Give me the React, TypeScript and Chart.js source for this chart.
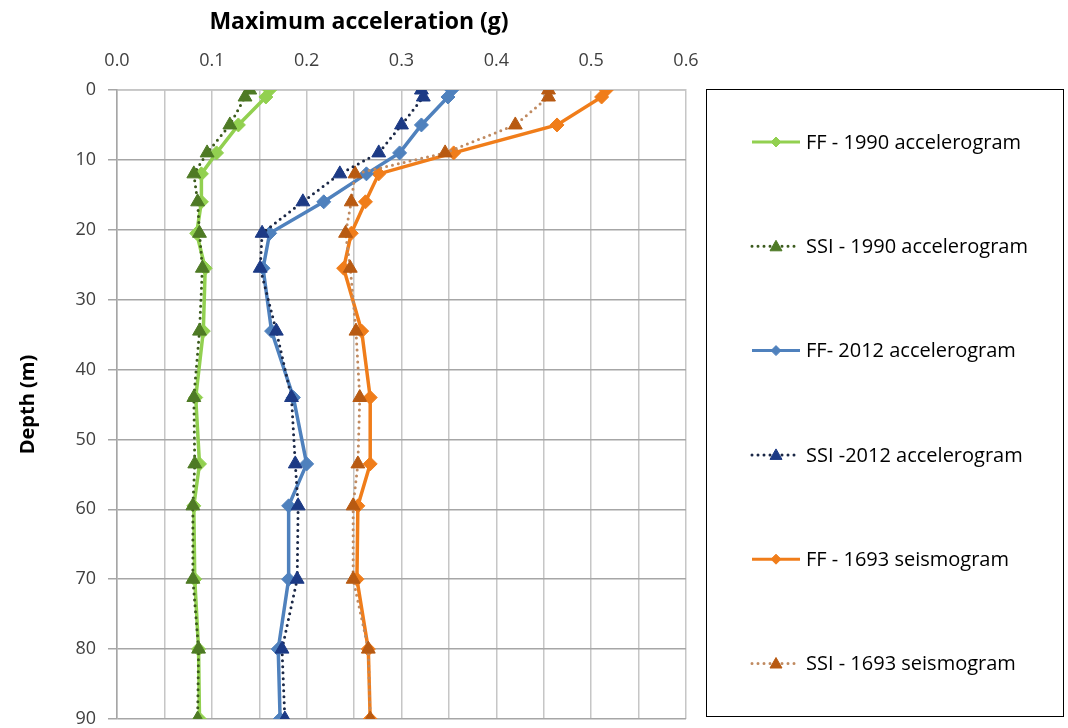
import React, { useEffect, useRef } from "react";
import { Chart, registerables } from "chart.js";

Chart.register(...registerables);

const depths = [0, 1, 5, 9, 12, 16, 20.5, 25.5, 34.5, 44, 53.5, 59.5, 70, 80, 90];

const ff1990 = [0.161, 0.157, 0.128, 0.105, 0.089, 0.089, 0.084, 0.093, 0.091, 0.083, 0.087, 0.081, 0.082, 0.086, 0.087];
const ssi1990 = [0.14, 0.135, 0.119, 0.095, 0.081, 0.085, 0.087, 0.09, 0.087, 0.081, 0.082, 0.08, 0.08, 0.086, 0.085];
const ff2012 = [0.353, 0.349, 0.321, 0.298, 0.263, 0.218, 0.161, 0.154, 0.163, 0.186, 0.2, 0.181, 0.181, 0.17, 0.172];
const ssi2012 = [0.321, 0.323, 0.3, 0.276, 0.235, 0.196, 0.153, 0.151, 0.168, 0.184, 0.188, 0.191, 0.19, 0.174, 0.177];
const ff1693 = [0.516, 0.511, 0.464, 0.355, 0.276, 0.262, 0.247, 0.239, 0.258, 0.267, 0.267, 0.254, 0.253, 0.265, 0.267];
const ssi1693 = [0.455, 0.455, 0.42, 0.346, 0.251, 0.247, 0.241, 0.246, 0.252, 0.256, 0.254, 0.249, 0.249, 0.265, 0.267];

const seriesLabels = [
  "FF - 1990 accelerogram",
  "SSI - 1990 accelerogram",
  "FF- 2012 accelerogram",
  "SSI -2012 accelerogram",
  "FF - 1693 seismogram",
  "SSI - 1693 seismogram",
];

const xTitle = "Maximum acceleration (g)";
const yTitle = "Depth (m)";

const FONT = '"Open Sans", "DejaVu Sans", sans-serif';

const toPoints = (vals: number[]) => vals.map((v, i) => ({ x: v, y: depths[i] }));

type Style = {
  line: string;
  marker: string;
  dotted: boolean;
  shape: "rectRot" | "triangle";
};

const styles: Style[] = [
  { line: "#92d050", marker: "#92d050", dotted: false, shape: "rectRot" },
  { line: "#3b5a1c", marker: "#4e7a25", dotted: true, shape: "triangle" },
  { line: "#4f81bd", marker: "#4f81bd", dotted: false, shape: "rectRot" },
  { line: "#1a2746", marker: "#1c3a85", dotted: true, shape: "triangle" },
  { line: "#f07d1a", marker: "#f07d1a", dotted: false, shape: "rectRot" },
  { line: "#c08a60", marker: "#b85a12", dotted: true, shape: "triangle" },
];

const seriesValues = [ff1990, ssi1990, ff2012, ssi2012, ff1693, ssi1693];

function drawMarker(ctx: CanvasRenderingContext2D, shape: string, x: number, y: number, color: string) {
  ctx.save();
  ctx.setLineDash([]);
  ctx.fillStyle = color;
  ctx.strokeStyle = color;
  ctx.lineWidth = 1;
  ctx.beginPath();
  if (shape === "rectRot") {
    const r = 5;
    ctx.moveTo(x, y - r);
    ctx.lineTo(x + r, y);
    ctx.lineTo(x, y + r);
    ctx.lineTo(x - r, y);
  } else {
    const r = 6;
    ctx.moveTo(x, y - r);
    ctx.lineTo(x + r, y + r * 0.75);
    ctx.lineTo(x - r, y + r * 0.75);
  }
  ctx.closePath();
  ctx.fill();
  ctx.stroke();
  ctx.restore();
}

const overlayPlugin = {
  id: "overlay",
  afterDraw(chart: any) {
    const ctx: CanvasRenderingContext2D = chart.ctx;
    ctx.save();
    ctx.font = `bold 23px ${FONT}`;
    ctx.fillStyle = "#000";
    ctx.textAlign = "center";
    ctx.textBaseline = "middle";
    ctx.fillText(xTitle, 359, 22);

    ctx.strokeStyle = "#000";
    ctx.lineWidth = 1;
    ctx.strokeRect(706.5, 89.5, 357, 627);

    ctx.font = `20px ${FONT}`;
    ctx.textAlign = "left";
    styles.forEach((s, i) => {
      const y = 142 + i * 104.3;
      ctx.save();
      ctx.strokeStyle = s.line;
      ctx.lineWidth = 3;
      if (s.dotted) {
        ctx.setLineDash([0, 6]);
        ctx.lineCap = "round";
      } else {
        ctx.setLineDash([]);
        ctx.lineCap = "butt";
      }
      ctx.beginPath();
      ctx.moveTo(752, y);
      ctx.lineTo(800, y);
      ctx.stroke();
      ctx.restore();
      drawMarker(ctx, s.shape, 776, y, s.marker);
      ctx.fillStyle = "#000";
      ctx.fillText(seriesLabels[i], 806, y + 1);
    });
    ctx.restore();
  },
};

export default function App() {
  const canvasRef = useRef<HTMLCanvasElement | null>(null);

  useEffect(() => {
    if (!canvasRef.current) return;
    const datasets = styles.map((s, i) => ({
      label: seriesLabels[i],
      data: toPoints(seriesValues[i]),
      showLine: true,
      borderColor: s.line,
      backgroundColor: s.marker,
      pointBackgroundColor: s.marker,
      pointBorderColor: s.marker,
      pointStyle: s.shape,
      pointRadius: s.shape === "rectRot" ? 7 : 8,
      pointBorderWidth: 1,
      borderWidth: s.dotted ? 3 : 3.5,
      borderDash: s.dotted ? [0, 6] : [],
      borderCapStyle: s.dotted ? "round" : "butt",
      tension: 0,
      order: s.dotted ? 0 : 1,
    }));

    const chart = new Chart(canvasRef.current, {
      type: "scatter",
      data: { datasets: datasets as any },
      options: {
        animation: false,
        responsive: false,
        layout: { padding: { left: 0, top: 0, right: 382, bottom: 9 } },
        plugins: {
          legend: { display: false },
          tooltip: { enabled: false },
        },
        scales: {
          x: {
            type: "linear",
            position: "top",
            min: 0,
            max: 0.6,
            afterFit: (scale: any) => {
              scale.height = 90;
              scale.paddingLeft = 0;
              scale.paddingRight = 0;
            },
            ticks: {
              stepSize: 0.05,
              autoSkip: false,
              maxRotation: 0,
              padding: 18,
              color: "#404040",
              font: { family: FONT, size: 18 },
              callback: (v: any) => {
                const n = Number(v);
                return Math.abs(n * 10 - Math.round(n * 10)) < 1e-6 ? n.toFixed(1) : "";
              },
            },
            grid: { color: "#c6c6c6", lineWidth: 1.5, drawTicks: false },
            border: { color: "#c6c6c6", width: 1.5 },
          },
          y: {
            type: "linear",
            reverse: true,
            min: 0,
            max: 90,
            afterFit: (scale: any) => {
              scale.width = 117;
              scale.paddingTop = 0;
              scale.paddingBottom = 0;
            },
            ticks: {
              stepSize: 10,
              padding: 12,
              color: "#404040",
              font: { family: FONT, size: 18 },
            },
            grid: { color: "#a6a6a6", lineWidth: 1.5, tickLength: 9 },
            border: { color: "#a6a6a6", width: 1.5 },
            title: {
              display: true,
              text: yTitle,
              color: "#000",
              font: { family: FONT, size: 20, weight: "bold" },
              padding: { top: 16, bottom: 0 },
            },
          },
        },
      },
      plugins: [overlayPlugin],
    } as any);

    return () => chart.destroy();
  }, []);

  return (
    <div style={{ position: "absolute", left: 0, top: 0, width: 1068, height: 728, background: "#fff" }}>
      <canvas ref={canvasRef} width={1068} height={728} style={{ display: "block" }} />
    </div>
  );
}
